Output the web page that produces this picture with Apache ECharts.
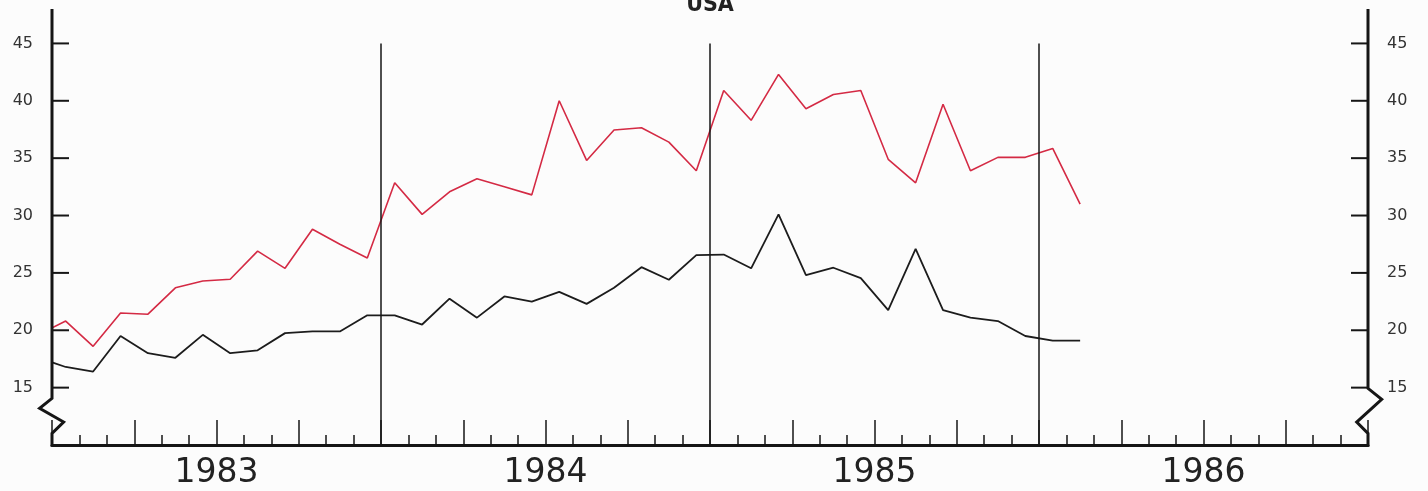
<!DOCTYPE html>
<html>
<head>
<meta charset="utf-8">
<script src="https://cdn.jsdelivr.net/npm/echarts@6/dist/echarts.min.js"></script>
<style>
  html, body { margin: 0; padding: 0; background: #fcfcfc; }
  #chart { width: 1428px; height: 491px; }
</style>
</head>
<body>
<div id="chart"></div>
<script>
// ---- data (monthly, mid-month points; first value lies half a month before the axis and is clipped) ----
const years = ['1983', '1984', '1985', '1986'];
const yearBounds = [12, 24, 36];
const yTicks = [15, 20, 25, 30, 35, 40, 45];
const redSeries = [19.6, 20.8, 18.6, 21.5, 21.4, 23.7, 24.3, 24.45, 26.9, 25.4, 28.8, 27.5, 26.3,
  32.85, 30.1, 32.07, 33.2, 32.5, 31.8, 40.0, 34.8, 37.45, 37.65, 36.4, 33.9,
  40.9, 38.3, 42.3, 39.3, 40.55, 40.9, 34.9, 32.85, 39.7, 33.9, 35.07, 35.07,
  35.85, 31.0];
const blackSeries = [17.6, 16.8, 16.4, 19.5, 18.0, 17.6, 19.6, 18.0, 18.25, 19.75, 19.9, 19.9, 21.3,
  21.3, 20.5, 22.75, 21.1, 22.95, 22.5, 23.35, 22.3, 23.7, 25.5, 24.4, 26.55,
  26.6, 25.4, 30.1, 24.8, 25.45, 24.55, 21.75, 27.1, 21.75, 21.1, 20.8, 19.5,
  19.1, 19.1];
const title = 'USA';

const toPairs = arr => arr.map((v, i) => [i - 0.5, v]);

const chart = echarts.init(document.getElementById('chart'), null, { renderer: 'canvas' });
const INK = '#161616';
const FONT = 'DejaVu Sans';

const yAxisBase = {
  type: 'value', min: 10, max: 48,
  axisLine: { show: false },
  splitLine: { show: false },
  axisTick: { show: false },
  axisLabel: { show: true, customValues: yTicks, margin: 19, fontFamily: FONT, fontSize: 16, color: '#333',
    padding: [0, 0, 10, 0] }
};

chart.setOption({
  backgroundColor: '#fcfcfc',
  animation: false,
  grid: { left: 52, right: 60, top: 9, bottom: 46, containLabel: false },
  xAxis: [
    {
      type: 'value', min: 0, max: 48, interval: 1, position: 'bottom',
      axisLine: { show: true, onZero: false, lineStyle: { color: INK, width: 3 } },
      axisTick: { show: true, inside: true, length: 10, lineStyle: { color: INK, width: 1.5 } },
      splitLine: { show: false },
      axisLabel: {
        show: true, margin: 12, fontFamily: FONT, fontSize: 33, color: '#222',
        showMinLabel: true, showMaxLabel: true,
        formatter: v => (v % 12 === 6 ? years[(v - 6) / 12] : '')
      }
    },
    {
      type: 'value', min: 0, max: 48, interval: 3, position: 'bottom',
      axisLine: { show: false, onZero: false },
      axisTick: { show: true, inside: true, length: 25, lineStyle: { color: INK, width: 1.5 } },
      splitLine: { show: false },
      axisLabel: { show: false }
    }
  ],
  yAxis: [
    Object.assign({}, yAxisBase, { position: 'left' }),
    Object.assign({}, yAxisBase, { position: 'right' })
  ],
  series: [
    {
      type: 'line', data: toPairs(redSeries), xAxisIndex: 0, yAxisIndex: 0,
      showSymbol: false, clip: true,
      lineStyle: { color: '#d42a44', width: 1.6 }
    },
    {
      type: 'line', data: toPairs(blackSeries), xAxisIndex: 0, yAxisIndex: 0,
      showSymbol: false, clip: true,
      lineStyle: { color: '#1c1c1c', width: 1.8 },
      markLine: {
        silent: true, symbol: 'none', label: { show: false },
        lineStyle: { color: INK, width: 1.5, type: 'solid' },
        data: yearBounds.map(b => [{ coord: [b, 45] }, { coord: [b, 10] }])
      }
    }
  ]
});

// axis lines with break zigzags, inward y ticks, title
function drawDecor() {
  const p = (x, y) => chart.convertToPixel({ xAxisIndex: 0, yAxisIndex: 0 }, [x, y]);
  const lt = p(0, 48), lb = p(0, 14.07), l0 = p(0, 10);
  const rt = p(48, 48), rb = p(48, 14.94), r0 = p(48, 10);
  const L = lt[0], R = rt[0];
  const leftPts = [lt, lb, [L - 12.4, lb[1] + 10], [L + 11.6, lb[1] + 23.7], [L, lb[1] + 35], [L, l0[1] + 1.5]];
  const rightPts = [rt, rb, [R + 13.7, rb[1] + 11], [R - 11.3, rb[1] + 33.7], [R, rb[1] + 45], [R, r0[1] + 1.5]];
  const mid = p(24, 48);
  const g = [
    { type: 'polyline', silent: true, shape: { points: leftPts }, style: { stroke: INK, lineWidth: 3, fill: null, lineJoin: 'miter' }, z: 10 },
    { type: 'polyline', silent: true, shape: { points: rightPts }, style: { stroke: INK, lineWidth: 3, fill: null, lineJoin: 'miter' }, z: 10 },
    { type: 'text', silent: true, x: mid[0], y: 5, style: { text: title, font: 'bold 23px "DejaVu Sans Condensed", "DejaVu Sans"', fill: '#222', align: 'center', verticalAlign: 'middle' }, z: 10 }
  ];
  yTicks.forEach(t => {
    const a = p(0, t), b = p(48, t);
    g.push({ type: 'line', silent: true, shape: { x1: a[0], y1: a[1], x2: a[0] + 17, y2: a[1] }, style: { stroke: INK, lineWidth: 2 }, z: 10 });
    g.push({ type: 'line', silent: true, shape: { x1: b[0] - 17, y1: b[1], x2: b[0], y2: b[1] }, style: { stroke: INK, lineWidth: 2 }, z: 10 });
  });
  chart.setOption({ graphic: g });
}
drawDecor();
</script>
</body>
</html>
